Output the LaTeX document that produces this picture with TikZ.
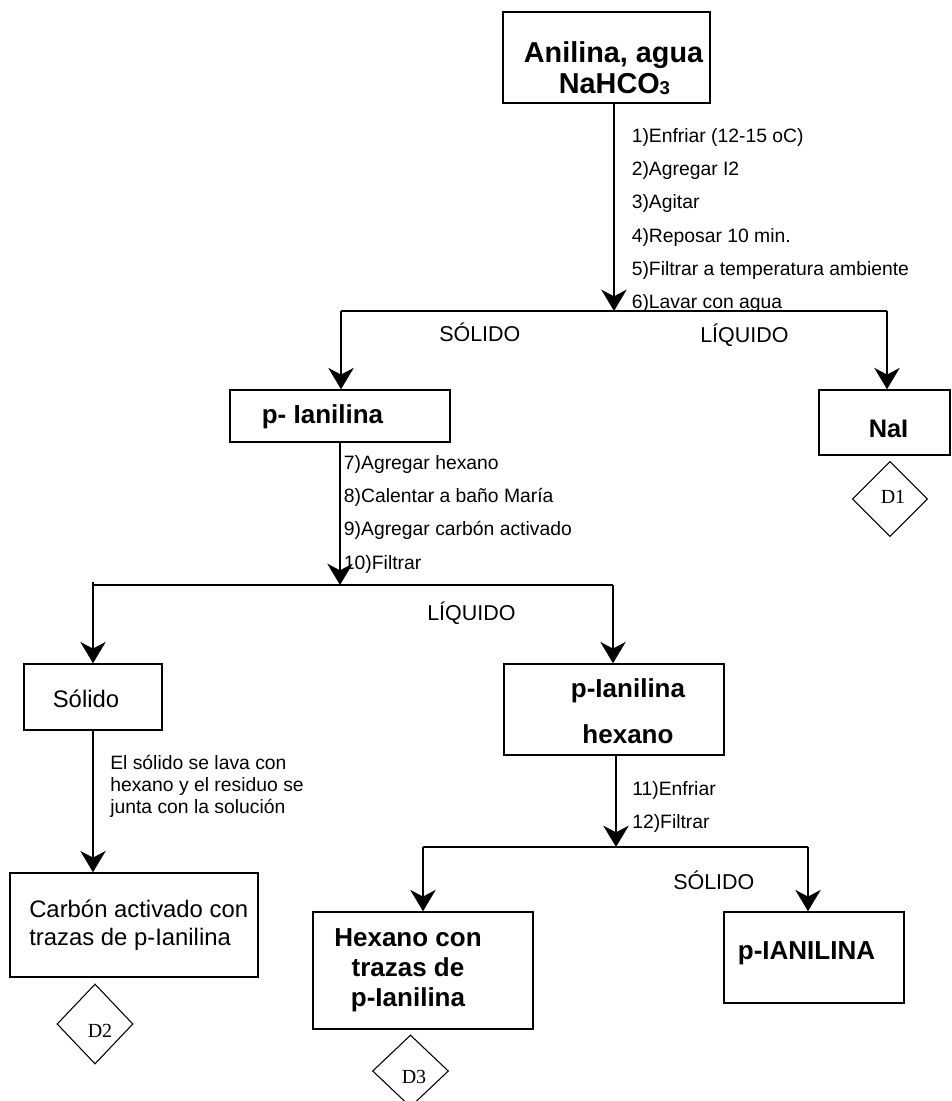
\documentclass[tikz,border=0pt]{standalone}
\usepackage{fontspec}
\setmainfont{Liberation Sans}
\newfontfamily\dfont{Liberation Serif}
\usetikzlibrary{arrows.meta,shapes.geometric}
\begin{document}
\begin{tikzpicture}[x=0.75pt,y=-0.75pt,
  conn/.style={line width=1.7pt,-{Stealth[length=16pt,width=19pt,inset=5pt]}},
  trunk/.style={line width=1.7pt},
  box/.style={draw,line width=1.1pt,inner sep=0pt},
  dia/.style={draw,diamond,line width=0.8pt,inner sep=0pt},
  steptxt/.style={inner sep=0pt,anchor=base west,font=\fontsize{14.5}{16}\selectfont},
  brtxt/.style={inner sep=0pt,anchor=base west,font=\fontsize{16.1}{18}\selectfont},
  rtxt/.style={inner sep=0pt,font=\fontsize{17.9}{20}\selectfont},
  btxt/.style={inner sep=0pt,anchor=base,font=\fontsize{19.5}{22}\selectfont\bfseries},
  dtxt/.style={inner sep=0pt,anchor=base,font=\fontsize{15}{17}\selectfont\dfont}]
\useasboundingbox (0,0) rectangle (951,1101);

% ---------- boxes ----------
\node[box,minimum width=155.25pt,minimum height=68.25pt] (T) at (606.5,57.5) {};
\node[box,minimum width=165pt,minimum height=39pt] (P1) at (340,416) {};
\node[box,minimum width=98.25pt,minimum height=48.75pt] (NaI) at (884.5,422.5) {};
\node[box,minimum width=103.5pt,minimum height=49.5pt] (S) at (93,697) {};
\node[box,minimum width=186pt,minimum height=78pt] (C) at (134,925) {};
\node[box,minimum width=165pt,minimum height=68.25pt] (H1) at (614,709.5) {};
\node[box,minimum width=165pt,minimum height=87.75pt] (HX) at (423,970.5) {};
\node[box,minimum width=135pt,minimum height=68.25pt] (PI) at (814,957.5) {};

\node[dia,minimum width=56.25pt,minimum height=56.25pt] (D1) at (890,499) {};
\node[dia,minimum width=57pt,minimum height=60pt] (D2) at (95,1024) {};
\node[dia,minimum width=57pt,minimum height=54pt] (D3) at (410.5,1071) {};

% ---------- box texts ----------
\node[btxt,font=\fontsize{21.6}{24}\selectfont\bfseries] (t1) at (613.5,62) {Anilina, agua};
\node[btxt,font=\fontsize{21.6}{24}\selectfont\bfseries] (t2) at (614.5,93) {NaHCO{\fontsize{14}{14}\selectfont\raisebox{-1pt}{3}}};
\node[btxt] (p1t) at (322.5,423) {p- Ianilina};
\node[btxt,font=\fontsize{19}{22}\selectfont\bfseries] (nait) at (888.5,437) {NaI};
\node[rtxt,anchor=base] (st) at (86,707) {Sólido};
\node[rtxt,anchor=base west] (c1t) at (29,917) {Carbón activado con};
\node[rtxt,anchor=base west] (c2t) at (29,945) {trazas de p-Ianilina};
\node[btxt] (h1a) at (628,697) {p-Ianilina};
\node[btxt] (h1b) at (628,743) {hexano};
\node[btxt] (hxa) at (408,946) {Hexano con};
\node[btxt] (hxb) at (408,976) {trazas de};
\node[btxt] (hxc) at (408,1006) {p-Ianilina};
\node[btxt] (pit) at (806.5,959) {p-IANILINA};
\node[dtxt] (d1t) at (893,503) {D1};
\node[dtxt] (d2t) at (100,1037) {D2};
\node[dtxt] (d3t) at (414,1083) {D3};

% ---------- junctions ----------
\coordinate (j1) at (614,311);
\coordinate (j1l) at (341,311);
\coordinate (j1r) at (887,311);
\coordinate (j2) at (340,585);
\coordinate (j2l) at (93,585);
\coordinate (j2lt) at (93,582);
\coordinate (j2r) at (613,585);
\coordinate (j3) at (616,847);
\coordinate (j3l) at (423,847);
\coordinate (j3r) at (808,847);

% ---------- connectors ----------
\draw[conn] (T.south -| j1) -- (j1);
\draw[trunk] (j1l) -- (j1r);
\draw[conn] (j1l) -- (j1l |- P1.north);
\draw[conn] (j1r) -- (j1r |- NaI.north);

\draw[conn] (P1.south -| j2) -- (j2);
\draw[trunk] (j2l) -- (j2r);
\draw[conn] (j2lt) -- (S.north);
\draw[conn] (j2r) -- (j2r |- H1.north);
\draw[conn] (S.south) -- (S.south |- C.north);

\draw[conn] (H1.south -| j3) -- (j3);
\draw[trunk] (j3l) -- (j3r);
\draw[conn] (j3l) -- (HX.north);
\draw[conn] (j3r) -- (j3r |- PI.north);

% ---------- step labels ----------
\node[steptxt] (s1) at (631.5,142) {1)Enfriar (12-15 oC)};
\node[steptxt] (s2) at (631.5,175.5) {2)Agregar I2};
\node[steptxt] (s3) at (631.5,208.5) {3)Agitar};
\node[steptxt] (s4) at (631.5,242) {4)Reposar 10 min.};
\node[steptxt] (s5) at (631.5,275.5) {5)Filtrar a temperatura ambiente};
\node[steptxt] (s6) at (631.5,308.5) {6)Lavar con agua};

\node[steptxt] (s7) at (343.7,469) {7)Agregar hexano};
\node[steptxt] (s8) at (343.7,502.3) {8)Calentar a baño María};
\node[steptxt] (s9) at (343.7,535.6) {9)Agregar carbón activado};
\node[steptxt] (s10) at (343.7,569) {10)Filtrar};

\node[steptxt] (w1) at (110,769) {El sólido se lava con};
\node[steptxt] (w2) at (110,791) {hexano y el residuo se};
\node[steptxt] (w3) at (110,813) {junta con la solución};

\node[steptxt] (s11) at (632,795) {11)Enfriar};
\node[steptxt] (s12) at (632,828) {12)Filtrar};

% ---------- branch labels ----------
\node[brtxt] (b1) at (439,341) {SÓLIDO};
\node[brtxt] (b2) at (700,342) {LÍQUIDO};
\node[brtxt] (b3) at (427,620) {LÍQUIDO};
\node[brtxt] (b4) at (673,889) {SÓLIDO};
\end{tikzpicture}
\end{document}
